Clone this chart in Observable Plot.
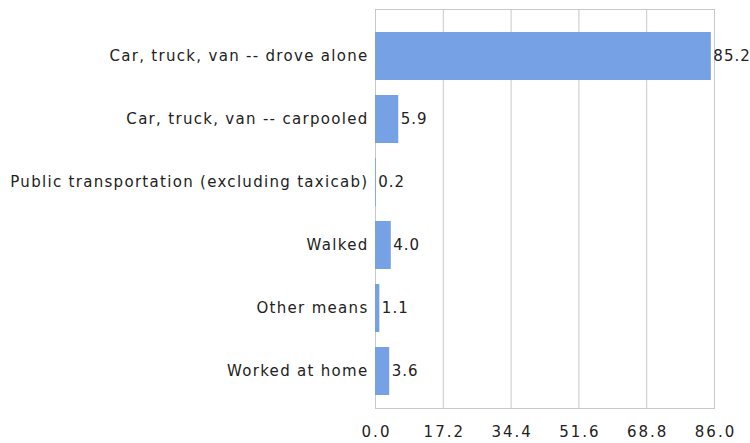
<!DOCTYPE html>
<html><head><meta charset="utf-8">
<script src="https://cdn.jsdelivr.net/npm/d3@7"></script>
<script src="https://cdn.jsdelivr.net/npm/@observablehq/plot@0.6"></script>
<style>
body{margin:0;background:#fff;}
svg{font-family:"DejaVu Sans",sans-serif;}
g[aria-label="y-axis tick label"]{letter-spacing:1.3px;}
g[aria-label="x-axis tick label"]{letter-spacing:2px;}
g[aria-label="text"]{letter-spacing:1px;}
</style>
</head><body><div id="chart"></div>
<script>
const categories = ["Car, truck, van -- drove alone","Car, truck, van -- carpooled","Public transportation (excluding taxicab)","Walked","Other means","Worked at home"];
const values = [85.2, 5.9, 0.2, 4.0, 1.1, 3.6];
const xTicks = [0, 17.2, 34.4, 51.6, 68.8, 86.0];
const data = categories.map((c,i)=>({category:c, value:values[i]}));
const chart = Plot.plot({
  width: 750, height: 443,
  marginLeft: 375, marginRight: 36, marginTop: 9, marginBottom: 35,
  x: {domain:[0,86], ticks: xTicks, tickFormat: d=>d.toFixed(1), label:null},
  y: {domain: categories, label:null, paddingInner:0.245, paddingOuter:0.26, align:0.64},
  marks: [
    Plot.frame({stroke:"#c8c8c8"}),
    Plot.gridX(xTicks, {stroke:"#c8c8c8", strokeOpacity:1}),
    Plot.barX(data, {x:"value", y:"category", fill:"#77a1e5"}),
    Plot.text(data, {x:"value", y:"category", text:d=>d.value.toFixed(1), textAnchor:"start", dx:2, fontSize:15, fill:"#222"}),
    Plot.axisY({tickSize:0, tickPadding:7, fontSize:15, fill:"#222", label:null}),
    Plot.axisX(xTicks, {tickSize:0, tickPadding:18, fontSize:15, fill:"#222", label:null, tickFormat:d=>d.toFixed(1), dx:1})
  ]
});
document.getElementById("chart").append(chart);
</script></body></html>
